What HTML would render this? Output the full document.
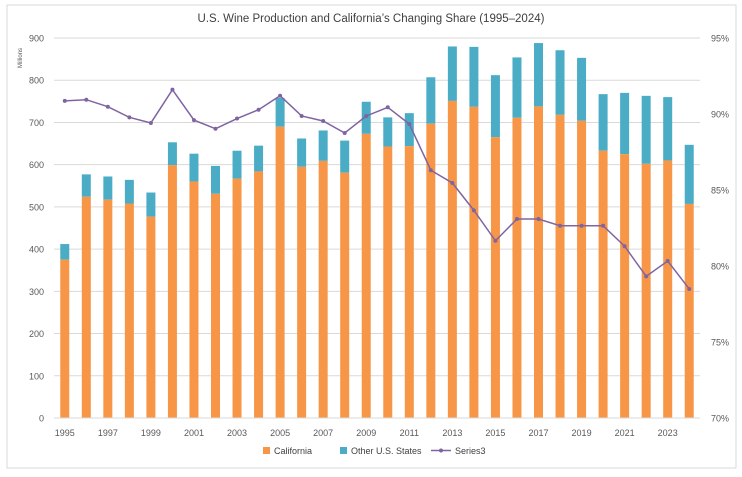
<!DOCTYPE html>
<html><head><meta charset="utf-8"><style>
body{margin:0;background:#fff;font-family:"Liberation Sans",sans-serif;}
svg text{font-family:"Liberation Sans",sans-serif;}
</style></head><body>
<svg id="chart" width="742" height="472" viewBox="0 0 742 472" xmlns="http://www.w3.org/2000/svg">
<rect x="7" y="5" width="729" height="463" fill="#fff" stroke="#d9d9d9"/>
<text x="371" y="22" text-anchor="middle" font-size="11.5" fill="#404040">U.S. Wine Production and California’s Changing Share (1995–2024)</text>
<text transform="translate(22,58) rotate(-90)" font-size="6" fill="#595959" text-anchor="middle">Millions</text>
<g id="grid"></g><g id="bars"></g><g id="line"></g><g id="axes"></g>
<g>
<rect x="263" y="447" width="7" height="7" fill="#F79646"/>
<text x="274" y="454" font-size="9" fill="#404040">California</text>
<rect x="340" y="447" width="7" height="7" fill="#4BACC6"/>
<text x="351" y="454" font-size="9" fill="#404040">Other U.S. States</text>
<line x1="431" y1="450.5" x2="451" y2="450.5" stroke="#8064A2" stroke-width="1.5"/>
<circle cx="441" cy="450.5" r="2" fill="#8064A2"/>
<text x="455" y="454" font-size="9" fill="#404040">Series3</text>
</g>
</svg>
<script>
const years=[1995,1996,1997,1998,1999,2000,2001,2002,2003,2004,2005,2006,2007,2008,2009,2010,2011,2012,2013,2014,2015,2016,2017,2018,2019,2020,2021,2022,2023,2024];
const california=[375,524,517,508,477,599,560,531,567,584,690,595,609,581,673,643,644,697,751,737,665,711,738,718,704,633,625,602,610,507];
const totals=[412,577,572,564,534,653,626,597,633,645,758,662,681,657,749,712,722,807,880,879,812,854,888,871,853,767,770,763,760,647];
const share=[90.86,90.94,90.48,89.78,89.41,91.6,89.6,89.03,89.7,90.28,91.2,89.87,89.54,88.75,89.87,90.44,89.34,86.3,85.46,83.66,81.66,83.09,83.09,82.65,82.65,82.65,81.3,79.32,80.33,78.49];
const leftTicks=[0,100,200,300,400,500,600,700,800,900];
const rightTicks=[70,75,80,85,90,95];
const NS="http://www.w3.org/2000/svg";
const L=54,R=700,T=38,B=418;
const band=(R-L)/years.length;
const x=i=>L+band*(i+0.5);
const y=v=>B-(v/900)*(B-T);
const y2=p=>B-((p-70)/25)*(B-T);
function mk(tag,attrs,parent){const e=document.createElementNS(NS,tag);for(const k in attrs)e.setAttribute(k,attrs[k]);parent.appendChild(e);return e;}
const grid=document.getElementById('grid'),bars=document.getElementById('bars'),line=document.getElementById('line'),axes=document.getElementById('axes');
leftTicks.forEach(t=>{
  const g=mk('line',{x1:L,x2:R,y1:y(t),y2:y(t),stroke:'#d9d9d9','stroke-width':1},grid);
  
  
  const tx=mk('text',{x:44,y:y(t)+3.5,'text-anchor':'end','font-size':9,fill:'#595959'},axes);
  tx.textContent=t;
  
  
});
rightTicks.forEach(t=>{
  const tx=mk('text',{x:711,y:y2(t)+3.5,'font-size':9,fill:'#595959'},axes);
  tx.textContent=t+'%';
  
  
});
years.forEach((yr,i)=>{
  const w=9,cx=x(i);
  const o=mk('rect',{x:cx-w/2,y:y(totals[i]),width:w,height:y(california[i])-y(totals[i]),fill:'#4BACC6'},bars);
  
  
  const c=mk('rect',{x:cx-w/2,y:y(california[i]),width:w,height:B-y(california[i]),fill:'#F79646'},bars);
  
  
  if(i%2===0){
    const tx=mk('text',{x:cx,y:436,'text-anchor':'middle','font-size':9,fill:'#595959'},axes);
    tx.textContent=yr;
    
    
  }
});
const ax=mk('line',{x1:L,x2:R,y1:B,y2:B,stroke:'#d9d9d9'},axes);


const pts=share.map((s,i)=>x(i)+','+y2(s)).join(' ');
const pl=mk('polyline',{points:pts,fill:'none',stroke:'#8064A2','stroke-width':1.5},line);


share.forEach((s,i)=>{
  const c=mk('circle',{cx:x(i),cy:y2(s),r:2,fill:'#8064A2'},line);
  
  
});
</script>
</body></html>
